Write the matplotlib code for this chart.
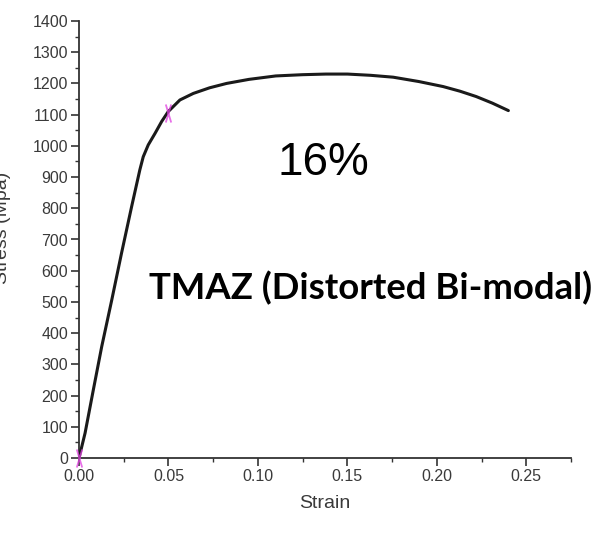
import matplotlib
matplotlib.use("Agg")
import matplotlib.pyplot as plt
from matplotlib.path import Path
from matplotlib.ticker import MultipleLocator

# ─── Data ────────────────────────────────────────────────────────────────────

strain = [0.0, 0.0034, 0.008, 0.0127, 0.0183, 0.0238, 0.0294, 0.0340,
          0.0359, 0.0387, 0.0425, 0.0462, 0.0499, 0.0564, 0.0639, 0.073,
          0.0825, 0.095, 0.110, 0.125, 0.138, 0.150, 0.163, 0.1756,
          0.190, 0.2035, 0.213, 0.222, 0.231, 0.240]
stress = [0, 80, 218, 357, 506, 657, 805, 923,
          965, 1003, 1040, 1078, 1110, 1147, 1168, 1186,
          1200, 1213, 1224, 1228, 1230, 1230, 1226, 1220,
          1206, 1190, 1175, 1158, 1137, 1113]

mark_strain = [0.0, 0.05]
mark_stress = [0, 1105]

x_ticks = [0.00, 0.05, 0.10, 0.15, 0.20, 0.25]
y_ticks = list(range(0, 1401, 100))

# ─── Style ───────────────────────────────────────────────────────────────────

INK     = "#1a1a1a"
AXIS    = "#333333"
LABEL   = "#3a3a3a"
MAGENTA = "#e040e0"

plt.rcParams["font.family"] = ["Liberation Sans", "DejaVu Sans"]

fig = plt.figure(figsize=(6.07, 5.35), dpi=100, facecolor="white")
ax = fig.add_axes([79 / 607, 77 / 535, 492 / 607, 437 / 535])

ax.plot(strain, stress, color=INK, linewidth=2.2,
        solid_capstyle="round", solid_joinstyle="round", zorder=3)

# elongated X marker like the reference's pink marks
xmark = Path([(-0.3, -1), (0.3, 1), (0.3, -1), (-0.3, 1)],
             [Path.MOVETO, Path.LINETO, Path.MOVETO, Path.LINETO])
ax.plot(mark_strain, mark_stress, linestyle="none", marker=xmark,
        markersize=13, markeredgewidth=1.3, color=MAGENTA, alpha=0.75,
        zorder=4, clip_on=False)

ax.set_xlim(0, 0.275)
ax.set_ylim(0, 1400)
ax.set_xticks(x_ticks)
ax.set_xticklabels([f"{v:.2f}" for v in x_ticks])
ax.set_yticks(y_ticks)
ax.xaxis.set_minor_locator(MultipleLocator(0.025))
ax.yaxis.set_minor_locator(MultipleLocator(50))

for side in ("top", "right"):
    ax.spines[side].set_visible(False)
for side in ("left", "bottom"):
    ax.spines[side].set_color(AXIS)
    ax.spines[side].set_linewidth(1.3)

ax.tick_params(which="major", direction="out", length=6, width=1.2,
               color=AXIS, labelcolor=LABEL, labelsize=11.5, pad=2)
ax.tick_params(which="minor", direction="out", length=3, width=1.0, color=AXIS)

ax.set_xlabel("Strain", fontsize=14, color=LABEL, labelpad=8)
fig.text(11 / 607, 1 - 228 / 535, "Stress (Mpa)", rotation=90,
         ha="right", va="center", fontsize=14, color=LABEL)

# annotations
fig.text(323 / 607, 1 - 163 / 535, "16%", fontsize=33, color="black",
         ha="center", va="center")
fig.text(371 / 607, 1 - 288 / 535, "TMAZ (Distorted Bi-modal)",
         fontsize=26.3, fontweight="bold", color="black",
         family=["Lato", "DejaVu Sans"], ha="center", va="center")

fig.savefig("out.png", dpi=100, facecolor="white")
